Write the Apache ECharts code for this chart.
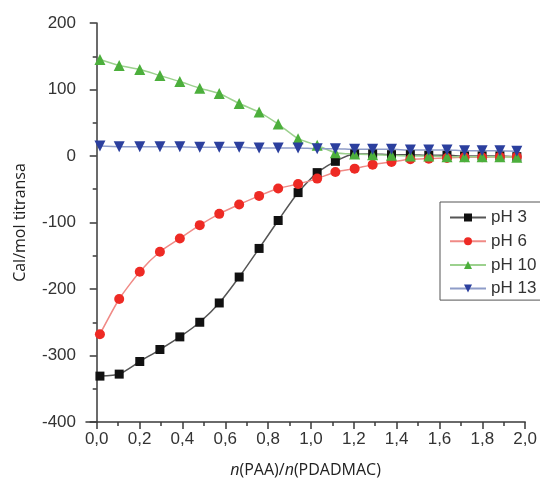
<!DOCTYPE html>
<html>
<head>
<meta charset="utf-8">
<script src="https://cdn.jsdelivr.net/npm/echarts@6/dist/echarts.min.js"></script>
<style>html,body{margin:0;padding:0;background:#fff}#c{width:540px;height:486px}</style>
</head>
<body>
<div id="c"></div>
<script>
const xValues = [0.015,0.105,0.201,0.295,0.388,0.481,0.572,0.665,0.758,0.847,0.940,1.029,1.114,1.204,1.288,1.376,1.464,1.550,1.635,1.717,1.799,1.882,1.961];
const pH3  = [-331,-328,-309,-291,-272,-250,-221,-182,-139,-97,-55,-25,-8,3,3,2,2,1,1,0,0,0,-1];
const pH6  = [-268,-215,-174,-144,-124,-104,-87,-73,-60,-49,-42,-34,-24,-19,-13,-9,-5,-4,-3,-2,-2,-1,-1];
const pH10 = [145,136,130,121,112,102,94,79,66,48,26,16,5,3,2,1,0,0,-1,-1,-1,-1,-2];
const pH13 = [15,14,14,14,14,13,13,13,12,12,12,11,11,10,10,10,9,9,9,8,8,8,7];
const seriesNames = ['pH 3','pH 6','pH 10','pH 13'];
const xTicks = [0,0.2,0.4,0.6,0.8,1.0,1.2,1.4,1.6,1.8,2.0];
const xMinorTicks = [0.1,0.3,0.5,0.7,0.9,1.1,1.3,1.5,1.7,1.9];

const pair = arr => arr.map((v,i)=>[xValues[i], v]);
const FONT = 'Liberation Sans';
const axisCol = '#3a3a3a';

const styles = [
  {sym:'rect', size:9, color:'#111111', line:'#555555'},
  {sym:'circle', size:10, color:'#ee2a24', line:'#f08a86'},
  {sym:'triangle', size:11, color:'#4caf3c', line:'#9cd18e'},
  {sym:'path://M0,0 L10,0 L5,9 Z', size:11, color:'#2b3f9e', line:'#8e9cc8'}
];
const data = [pH3, pH6, pH10, pH13];

const chart = echarts.init(document.getElementById('c'));
chart.setOption({
  animation:false,
  backgroundColor:'#fff',
  grid:{left:86, right:12, top:23, bottom:64, containLabel:false},
  xAxis:[{
    type:'value', min:-0.05, max:2.0, position:'bottom',
    axisLine:{onZero:false, lineStyle:{color:axisCol, width:1.5}},
    axisTick:{show:true, inside:false, length:7, customValues:xTicks, lineStyle:{color:axisCol, width:1.5}},
    axisLabel:{customValues:xTicks, margin:9, color:'#333', fontFamily:FONT, fontSize:17,
      formatter:v=>v.toFixed(1).replace('.',',')},
    splitLine:{show:false},
    name:'{i|n}(PAA)/{i|n}(PDADMAC)', nameLocation:'middle', nameGap:40,
    nameTextStyle:{color:'#222', fontFamily:'Open Sans', fontSize:16,
      rich:{i:{fontStyle:'italic', fontFamily:'Open Sans', fontSize:16, color:'#222'}}}
  },{
    type:'value', min:-0.05, max:2.0, position:'bottom',
    axisLine:{show:false, onZero:false},
    axisTick:{show:true, length:4, customValues:xMinorTicks, lineStyle:{color:axisCol, width:1.5}},
    axisLabel:{show:false},
    splitLine:{show:false}
  }],
  yAxis:{
    type:'value', min:-400, max:200, interval:100,
    axisLine:{show:true, lineStyle:{color:axisCol, width:1.5}},
    axisTick:{show:true, length:7, lineStyle:{color:axisCol, width:1.5}},
    minorTick:{show:true, splitNumber:2, length:4, lineStyle:{color:axisCol, width:1.5}},
    axisLabel:{margin:10, color:'#333', fontFamily:FONT, fontSize:17},
    splitLine:{show:false},
    name:'Cal/mol titransa', nameLocation:'middle', nameGap:58,
    nameTextStyle:{color:'#222', fontFamily:'Open Sans', fontSize:16}
  },
  legend:{
    orient:'vertical', left:440, top:202,
    backgroundColor:'#fff', borderColor:'#555', borderWidth:1, borderRadius:0,
    padding:[7,5,3,9], itemGap:6.7, itemWidth:36, itemHeight:10,
    textStyle:{color:'#333', fontFamily:FONT, fontSize:17, lineHeight:16},
    data:seriesNames
  },
  series:data.map((d,k)=>({
    name:seriesNames[k], type:'line', data:pair(d), smooth:0.2,
    symbol:styles[k].sym, symbolSize:styles[k].size,
    itemStyle:{color:styles[k].color},
    lineStyle:{color:styles[k].line, width:1.5},
    showAllSymbol:true
  }))
});
</script>
</body>
</html>
